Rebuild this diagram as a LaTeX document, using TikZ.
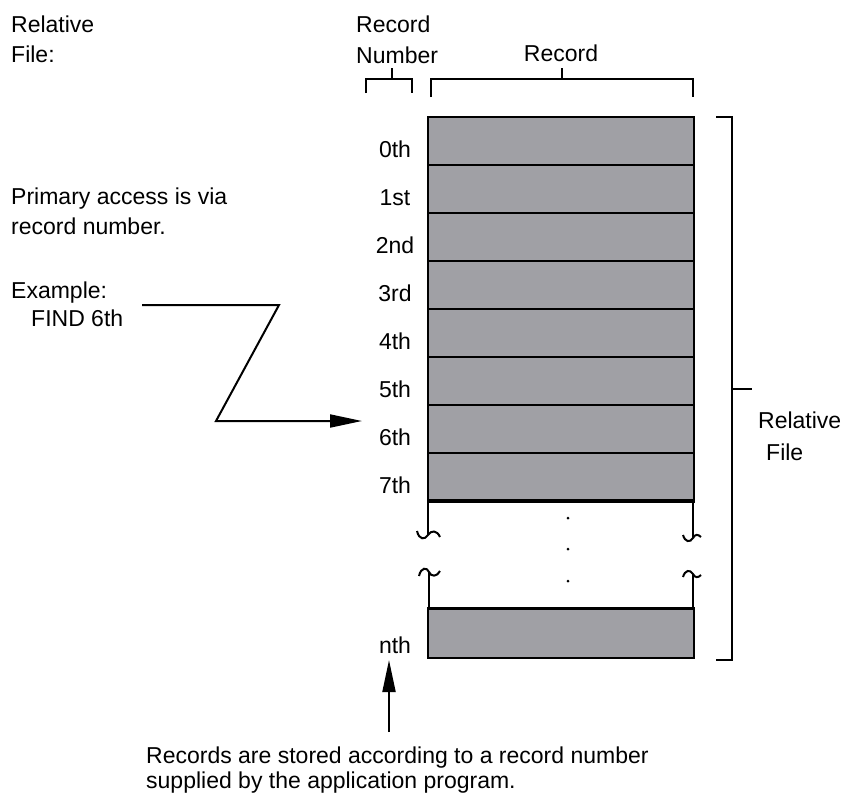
\documentclass[tikz,border=0pt]{standalone}
\usepackage{fontspec}
\setmainfont{Liberation Sans}
\usetikzlibrary{arrows.meta}
\definecolor{recgray}{RGB}{160,160,165}
\begin{document}
\begin{tikzpicture}[x=1pt,y=-1pt,
  txt/.style={inner sep=0pt,font=\fontsize{23}{27}\selectfont},
  lbl/.style={txt,anchor=base west},
  rowlbl/.style={txt,anchor=base},
  recbox/.style={fill=recgray,draw=black,line width=2.2pt},
  brk/.style={line width=2pt,line cap=butt},
  conn/.style={line width=2pt},
  head/.style={-{Triangle[length=32pt,width=13pt]}}
]
\useasboundingbox (0,0) rectangle (848,796);
% texts
\node[lbl] (t1) at (11,32) {Relative};
\node[lbl] (t2) at (11,62) {File:};
\node[lbl] (rn1) at (356,32) {Record};
\node[lbl] (rn2) at (356,63) {Number};
\node[rowlbl] (rl) at (561,61) {Record};
\node[lbl] (p1) at (11,204) {Primary access is via};
\node[lbl] (p2) at (11,234) {record number.};
\node[lbl] (e1) at (11,298) {Example:};
\node[lbl] (e2) at (31,326) {FIND 6th};
\node[lbl] (r1) at (758,428) {Relative};
\node[lbl] (r2) at (766,460) {File};
\node[lbl] (b1) at (146,763) {Records are stored according to a record number};
\node[lbl] (b2) at (146,788) {supplied by the application program.};
% rows
\foreach \i/\t in {0/0th,1/1st,2/2nd,3/3rd,4/4th,5/5th,6/6th,7/7th}{
  \pgfmathsetmacro{\top}{117+48*\i}
  \draw[recbox] (428,\top) rectangle (694,\top+48);
  \node[rowlbl] (l\i) at (395,\top+40) {\t};
}
\draw[line width=3.2pt] (427,501) -- (695,501);
\draw[recbox] (428,608) rectangle (694,658);
\draw[line width=3pt] (427,608) -- (695,608);
\node[rowlbl] (ln) at (395,653) {nth};
% top brackets
\draw[brk] (366,93) -- (366,79) -- (412,79) -- (412,93);
\draw[brk] (392,79) -- (392,68);
\draw[brk] (431,97) -- (431,79) -- (693,79) -- (693,97);
\draw[brk] (562,79) -- (562,68);
% right bracket
\draw[brk] (716,117) -- (732,117) -- (732,660) -- (716,660);
\draw[brk] (732,389) -- (752,389);
% break lines
\draw[brk] (428,501) -- (428,535);
\draw[brk] (417,531) .. controls (419,540) and (425,540) .. (428,535) .. controls (431,530) and (437,530) .. (440,537);
\draw[brk] (429,608) -- (429,572);
\draw[brk] (419,576) .. controls (421,567) and (427,567) .. (429,572) .. controls (431,577) and (437,577) .. (440,571);
\draw[brk] (693,501) -- (693,538);
\draw[brk] (683,535) .. controls (685,542) and (690,543) .. (693,538) .. controls (695,534) and (698,534) .. (701,537);
\draw[brk] (693,608) -- (693,574);
\draw[brk] (683,577) .. controls (685,570) and (690,569) .. (693,574) .. controls (695,578) and (698,578) .. (701,575);
% dots
\fill (568,518) circle (1.5);
\fill (568,549) circle (1.5);
\fill (568,581) circle (1.5);
% connectors
\coordinate (zs) at (142,305);
\coordinate (z1) at (279,305);
\coordinate (z2) at (216,421);
\coordinate (ze) at (362,421);
\draw[conn,head] (zs) -- (z1) -- (z2) -- (ze);
\coordinate (as) at (389,732);
\coordinate (ae) at (389,660);
\draw[conn,head] (as) -- (ae);
\end{tikzpicture}
\end{document}
